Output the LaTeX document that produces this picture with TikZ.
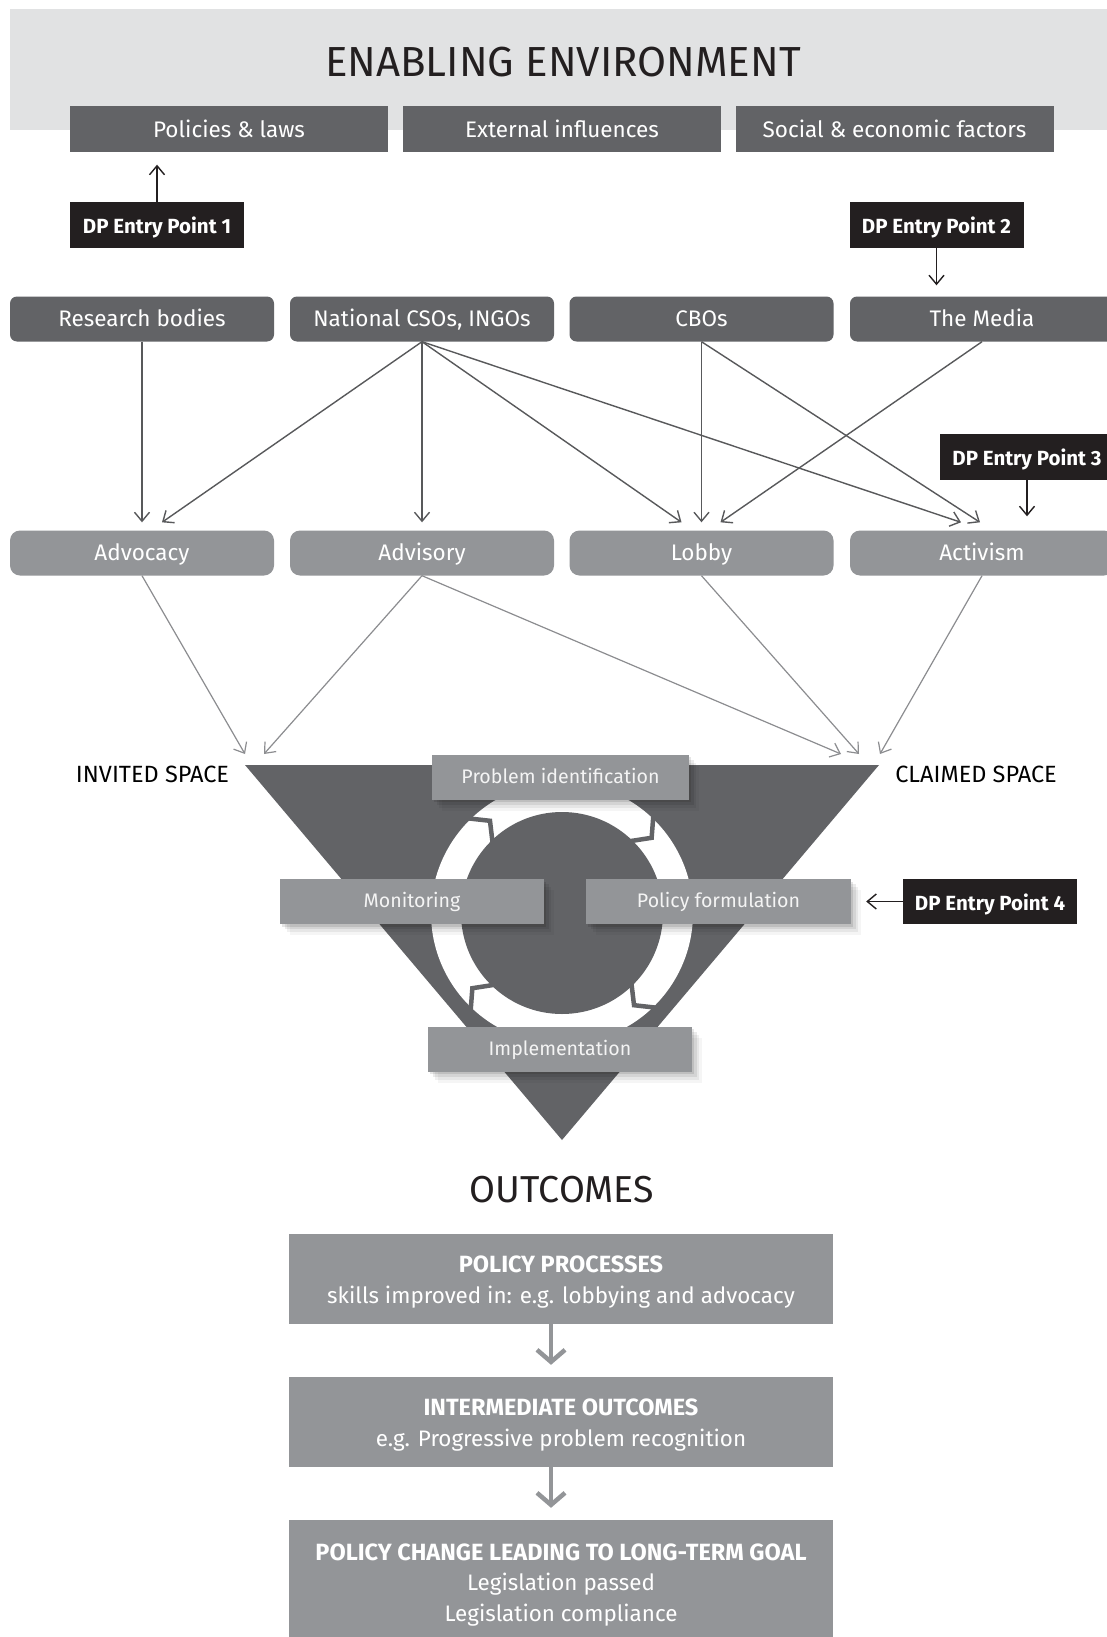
\documentclass[tikz,border=0pt]{standalone}
\usepackage{fontspec}
\setmainfont{Fira Sans}
\usetikzlibrary{arrows.meta,calc,shadows}
\definecolor{bandc}{HTML}{E1E2E3}
\definecolor{darkc}{HTML}{626366}
\definecolor{lightc}{HTML}{939598}
\definecolor{blkc}{HTML}{231F20}
\definecolor{arrdark}{HTML}{58595B}
\definecolor{arrlight}{HTML}{8C8D90}
\definecolor{txtl}{HTML}{F4F4F4}
\newcommand\hdfont{\fontsize{23.5}{30.5}\selectfont\bfseries}
\begin{document}
\begin{tikzpicture}[x=1pt,y=-1pt,
  fs/.style={font=\fontsize{#1}{30}\selectfont},
  topbox/.style={fill=darkc,text=white,minimum width=318pt,minimum height=46pt,inner sep=0pt,fs=22.5,text height=17pt,text depth=0.5pt},
  actorbox/.style={fill=darkc,text=white,rounded corners=7pt,minimum width=264pt,minimum height=45pt,inner sep=0pt,fs=22.5,text height=15.5pt,text depth=1.5pt},
  modebox/.style={fill=lightc,text=white,rounded corners=10pt,minimum width=264pt,minimum height=45pt,inner sep=0pt,fs=22.5,text height=15.5pt,text depth=1.5pt},
  dpbox/.style={fill=blkc,text=white,minimum width=174pt,minimum height=46pt,inner sep=0pt,font=\fontsize{20.5}{24}\selectfont\bfseries,text height=17pt,text depth=0pt},
  softshadow/.style={
    general shadow={fill=black,opacity=0.10,shadow xshift=2pt,shadow yshift=-2.5pt},
    general shadow={fill=black,opacity=0.08,shadow xshift=4.5pt,shadow yshift=-5pt},
    general shadow={fill=black,opacity=0.06,shadow xshift=7pt,shadow yshift=-8pt},
    general shadow={fill=black,opacity=0.04,shadow xshift=10pt,shadow yshift=-11pt}},
  stagebox/.style={fill=lightc,text=txtl,minimum height=45pt,inner sep=0pt,fs=19.6,text height=13.5pt,text depth=1pt,softshadow},
  outbox/.style={fill=lightc,minimum width=544pt,minimum height=90pt,inner sep=0pt},
  outtext/.style={text=white,align=center,inner sep=0pt,font=\fontsize{22.4}{30.5}\selectfont},
  darrow/.style={draw=arrdark,line width=1.4pt,-{Straight Barb[length=9pt,width=15pt]}},
  larrow/.style={draw=arrlight,line width=1.2pt,-{Straight Barb[length=9pt,width=15pt]}},
  barrow/.style={draw=blkc,line width=1.4pt,-{Straight Barb[length=9pt,width=15pt]}},
  farrow/.style={draw=lightc,line width=4.5pt,-{Straight Barb[length=12pt,width=28pt]}},
  spacelabel/.style={text=black,inner sep=0pt,fs=23.5}
]
\useasboundingbox (0,0) rectangle (1107,1637);
\clip (0,0) rectangle (1107,1637);
\fill[white] (0,0) rectangle (1107,1637);
% enabling environment band
\fill[bandc] (10,9) rectangle (1107,130);
\node[fs=42,text=blkc] (title) at (563,62) {ENABLING ENVIRONMENT};
\node[topbox] (pol) at (229,129.5) {Policies \& laws};
\node[topbox] (ext) at (562,129.5) {External influences};
\node[topbox] (soc) at (894.5,129.5) {Social \& economic factors};
% DP entry points 1 and 2
\node[dpbox] (dp1) at (157,225) {DP Entry Point 1};
\node[dpbox] (dp2) at (936.5,225) {DP Entry Point 2};
% actors
\node[actorbox] (res) at (142,319) {Research bodies};
\node[actorbox] (nat) at (422,319) {National CSOs, INGOs};
\node[actorbox] (cbo) at (701.5,319) {CBOs};
\node[actorbox] (med) at (982,319) {The Media};
% modes
\node[modebox] (adv) at (142,553) {Advocacy};
\node[modebox] (avs) at (422,553) {Advisory};
\node[modebox] (lob) at (701.5,553) {Lobby};
\node[modebox] (act) at (982,553) {Activism};
\node[dpbox] (dp3) at (1027,457) {DP Entry Point 3};
% entry point arrows
\draw[barrow,shorten >=12pt] (dp1.north) -- (dp1.north |- pol.south);
\draw[barrow,shorten >=11pt] (dp2.south) -- (dp2.south |- med.north);
\draw[barrow,shorten >=14pt] (dp3.south) -- (dp3.south |- act.north);
% actor -> mode arrows
\coordinate (t1) at ($(adv.north)+(0,-8)$);
\coordinate (t2) at ($(adv.north)+(20,-8)$);
\coordinate (t3) at ($(avs.north)+(0,-8)$);
\coordinate (t4) at ($(lob.north)+(-20,-8)$);
\coordinate (t5) at ($(lob.north)+(0,-8)$);
\coordinate (t6) at ($(lob.north)+(19,-8)$);
\coordinate (t7) at ($(act.north)+(-21,-8)$);
\coordinate (t8) at ($(act.north)+(-2,-8)$);
\draw[darrow] (res.south) -- (t1);
\draw[darrow] (nat.south) -- (t2);
\draw[darrow] (nat.south) -- (t3);
\draw[darrow] (nat.south) -- (t4);
\draw[darrow] (nat.south) -- (t7);
\draw[darrow] (cbo.south) -- (t5);
\draw[darrow] (cbo.south) -- (t8);
\draw[darrow] (med.south) -- (t6);
% triangle
\coordinate (tl) at (245,765);
\coordinate (tr) at (879,765);
\coordinate (tb) at (562,1140);
\fill[darkc] (tl) -- (tr) -- (tb) -- cycle;
\node[spacelabel] (inv) at (152.5,774) {INVITED SPACE};
\node[spacelabel] (clm) at (976,774) {CLAIMED SPACE};
% mode -> space arrows
\coordinate (s1) at ($(tl)+(0,-11)$);
\coordinate (s2) at ($(tl)+(19,-11)$);
\coordinate (s3) at ($(tr)+(-38,-11)$);
\coordinate (s4) at ($(tr)+(-20,-11)$);
\coordinate (s5) at ($(tr)+(1,-11)$);
\draw[larrow] (adv.south) -- (s1);
\draw[larrow] (avs.south) -- (s2);
\draw[larrow] (avs.south) -- (s3);
\draw[larrow] (lob.south) -- (s4);
\draw[larrow] (act.south) -- (s5);
% policy cycle ring
\coordinate (cc) at (562,913);
\fill[white] (cc) circle (131);
\fill[darkc] (cc) circle (101);
\foreach \a in {-135,-47,45,133}{
  \draw[darkc,line width=4.5pt,line join=miter,miter limit=10]
    ($(cc)+(\a:98)$) -- ($(cc)+({\a+7}:117)$) -- ($(cc)+(\a:134)$);
}
% stages
\node[stagebox,minimum width=257pt] (pid) at (560.5,777) {Problem identification};
\node[stagebox,minimum width=264pt] (mon) at (412,901.5) {Monitoring};
\node[stagebox,minimum width=265pt] (pfo) at (718.5,901.5) {Policy formulation};
\node[stagebox,minimum width=264pt] (imp) at (560,1049) {Implementation};
\node[dpbox,minimum height=45pt] (dp4) at (990,901.5) {DP Entry Point 4};
\draw[barrow,shorten >=15pt] (dp4.west) -- (pfo.east);
% outcomes
\node[fs=37.5,text=blkc] (outc) at (562,1190) {OUTCOMES};
\node[outbox] (o1) at (561,1279) {};
\node[outbox] (o2) at (561,1422) {};
\node[outbox,minimum height=130pt] (o3) at (561,1585) {};
\node[outtext] (o1t) at ($(o1)+(0,3)$) {{\hdfont POLICY PROCESSES}\\ skills improved in: e.g. lobbying and advocacy};
\node[outtext] (o2t) at ($(o2)+(0,3)$) {{\hdfont INTERMEDIATE OUTCOMES}\\ e.g. Progressive problem recognition};
\node[outtext] (o3t) at ($(o3)+(0,0)$) {{\hdfont POLICY CHANGE LEADING TO LONG-TERM GOAL}\\ Legislation passed\\ Legislation compliance};
\draw[farrow,shorten >=12pt] ($(o1.south)+(-10,0)$) -- ($(o2.north)+(-10,0)$);
\draw[farrow,shorten >=12pt] ($(o2.south)+(-10,0)$) -- ($(o3.north)+(-10,0)$);
\end{tikzpicture}
\end{document}
